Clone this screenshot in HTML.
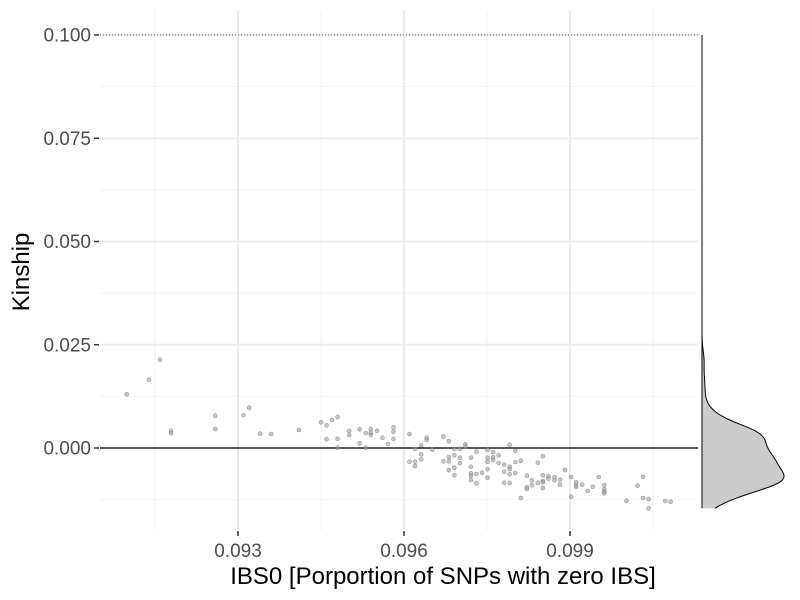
<!DOCTYPE html>
<html><head><meta charset="utf-8"><style>
html,body{margin:0;padding:0;background:#fff;}
svg{display:block;font-family:"Liberation Sans",sans-serif;}
</style></head><body>
<svg id="chart" width="800" height="600" viewBox="0 0 800 600" xmlns="http://www.w3.org/2000/svg">
<g id="grid"></g>
<g id="marks"></g>
<g id="density"></g>
<g id="axes"></g>
<text x="443" y="584" font-size="24" text-anchor="middle" fill="#000">IBS0 [Porportion of SNPs with zero IBS]</text>
<text transform="translate(29,272) rotate(-90)" font-size="24" text-anchor="middle" fill="#000">Kinship</text>
</svg>
<script>
const xs=[0.09099,0.09139,0.09159,0.09179,0.09179,0.09259,0.09259,0.09310,0.09320,0.09340,0.09360,0.09410,0.09450,0.09460,0.09470,0.09480,0.09460,0.09480,0.09480,0.09501,0.09501,0.09520,0.09531,0.09520,0.09531,0.09540,0.09540,0.09540,0.09551,0.09561,0.09571,0.09581,0.09581,0.09581,0.09610,0.09620,0.09631,0.09641,0.09641,0.09651,0.09671,0.09681,0.09691,0.09701,0.09711,0.09711,0.09610,0.09620,0.09620,0.09631,0.09631,0.09671,0.09681,0.09681,0.09681,0.09691,0.09691,0.09691,0.09701,0.09701,0.09721,0.09721,0.09721,0.09721,0.09721,0.09731,0.09731,0.09731,0.09741,0.09751,0.09751,0.09751,0.09751,0.09751,0.09761,0.09761,0.09761,0.09771,0.09771,0.09781,0.09781,0.09781,0.09791,0.09791,0.09791,0.09791,0.09791,0.09801,0.09801,0.09801,0.09811,0.09811,0.09822,0.09822,0.09822,0.09831,0.09831,0.09842,0.09842,0.09851,0.09851,0.09851,0.09851,0.09851,0.09861,0.09861,0.09872,0.09872,0.09882,0.09882,0.09891,0.09902,0.09902,0.09911,0.09911,0.09911,0.09922,0.09932,0.09941,0.09952,0.09962,0.09962,0.09962,0.09962,0.10002,0.10022,0.10032,0.10032,0.10042,0.10042,0.10072,0.10082];
const ys=[0.01300,0.01654,0.02138,0.00419,0.00356,0.00782,0.00460,0.00799,0.00976,0.00346,0.00339,0.00436,0.00622,0.00549,0.00678,0.00751,0.00211,0.00225,0.00007,0.00412,0.00315,0.00453,0.00363,0.00114,0.00007,0.00453,0.00370,0.00315,0.00419,0.00249,0.00097,0.00501,0.00395,0.00218,0.00339,-0.00024,0.00065,0.00249,0.00194,-0.00041,0.00274,0.00162,-0.00024,-0.00017,0.00090,0.00031,-0.00332,-0.00332,-0.00436,-0.00153,-0.00274,-0.00322,-0.00218,-0.00322,-0.00533,-0.00177,-0.00477,-0.00661,-0.00235,-0.00370,-0.00235,-0.00453,-0.00613,-0.00678,-0.00775,-0.00090,-0.00630,-0.00855,-0.00598,-0.00048,-0.00235,-0.00332,-0.00516,-0.00719,-0.00104,-0.00225,-0.00291,-0.00177,-0.00363,-0.00404,-0.00574,-0.00840,0.00080,-0.00453,-0.00508,-0.00637,-0.00847,-0.00065,-0.00339,-0.00605,-0.00308,-0.01211,-0.00671,-0.00952,-0.00993,-0.00782,-0.00903,-0.00356,-0.00840,-0.00201,-0.00661,-0.00799,-0.00830,-0.00969,-0.00678,-0.00743,-0.00709,-0.00782,-0.00767,-0.00889,-0.00533,-0.00702,-0.01179,-0.00830,-0.00913,-0.00937,-0.00889,-0.01041,-0.00937,-0.00702,-0.00896,-0.01000,-0.01058,-0.01097,-0.01276,-0.00913,-0.00702,-0.01211,-0.01235,-0.01460,-0.01283,-0.01300];
const yTicks=[0.000,0.025,0.050,0.075,0.100];
const yTickLabels=["0.000","0.025","0.050","0.075","0.100"];
const yMinor=[-0.0125,0.0125,0.0375,0.0625,0.0875];
const xTicks=[0.093,0.096,0.099];
const xTickLabels=["0.093","0.096","0.099"];
const xMinor=[0.0915,0.0945,0.0975,0.1005];
const NS="http://www.w3.org/2000/svg";
const X=v=>238+(v-0.093)/0.003*166;
const Y=v=>448-v/0.025*103.25;
const PL=100,PR=698,PT=10,PB=530;
function mk(parent,tag,attrs){const e=document.createElementNS(NS,tag);for(const k in attrs)e.setAttribute(k,attrs[k]);parent.appendChild(e);return e;}
const grid=document.getElementById('grid');
yMinor.forEach(v=>{const l=mk(grid,'line',{x1:PL,x2:PR,y1:Y(v),y2:Y(v),stroke:'#f2f2f2','stroke-width':1});

});
xMinor.forEach(v=>{const l=mk(grid,'line',{x1:X(v),x2:X(v),y1:PT,y2:PB,stroke:'#f2f2f2','stroke-width':1});

});
yTicks.forEach(v=>{const l=mk(grid,'line',{x1:PL,x2:PR,y1:Y(v),y2:Y(v),stroke:'#ebebeb','stroke-width':2});

});
xTicks.forEach(v=>{const l=mk(grid,'line',{x1:X(v),x2:X(v),y1:PT,y2:PB,stroke:'#ebebeb','stroke-width':2});

});
const z=mk(grid,'line',{x1:PL,x2:PR,y1:Y(0),y2:Y(0),stroke:'#000','stroke-width':1.3});


const t=mk(grid,'line',{x1:PL,x2:PR,y1:Y(0.1),y2:Y(0.1),stroke:'#333','stroke-width':0.8,'stroke-dasharray':'1 2'});


const marks=document.getElementById('marks');
xs.forEach((xv,i)=>{const c=mk(marks,'circle',{cx:X(xv),cy:Y(ys[i]),r:2,fill:'rgba(160,160,160,0.6)',stroke:'rgba(110,110,110,0.6)','stroke-width':0.6});

});
const dg=document.getElementById('density');
const ymin=Math.min(...ys),bw=0.0022,B=702;
let pts=[],maxD=0;
for(let k=0;k<=200;k++){const yv=ymin+(0.1-ymin)*k/200;let d=0;ys.forEach(v=>{const u=(yv-v)/bw;d+=Math.exp(-0.5*u*u);});pts.push([yv,d]);if(d>maxD)maxD=d;}
const W=82;
let dpath='M'+B+','+Y(ymin);
pts.forEach(p=>{dpath+=' L'+(B+p[1]/maxD*W).toFixed(2)+','+Y(p[0]).toFixed(2);});
const area=mk(dg,'path',{d:dpath+' L'+B+','+Y(0.1)+' Z',fill:'#cccccc',stroke:'none'});


let lp='';pts.forEach((p,i)=>{lp+=(i?' L':'M')+(B+p[1]/maxD*W).toFixed(2)+','+Y(p[0]).toFixed(2);});
const dl=mk(dg,'path',{d:lp,fill:'none',stroke:'#000','stroke-width':1});


const base=mk(dg,'line',{x1:B,x2:B,y1:Y(0.1),y2:Y(ymin),stroke:'#000','stroke-width':1});


const ax=document.getElementById('axes');
yTicks.forEach((v,i)=>{const tk=mk(ax,'line',{x1:94,x2:99,y1:Y(v),y2:Y(v),stroke:'#333','stroke-width':1.5});


const tx=mk(ax,'text',{x:91,y:Y(v)+6.5,'font-size':19,'text-anchor':'end',fill:'#4d4d4d'});tx.textContent=yTickLabels[i];

});
xTicks.forEach((v,i)=>{const tk=mk(ax,'line',{x1:X(v),x2:X(v),y1:531,y2:536,stroke:'#333','stroke-width':1.5});


const tx=mk(ax,'text',{x:X(v),y:557,'font-size':19,'text-anchor':'middle',fill:'#4d4d4d'});tx.textContent=xTickLabels[i];

});
</script>
</body></html>
